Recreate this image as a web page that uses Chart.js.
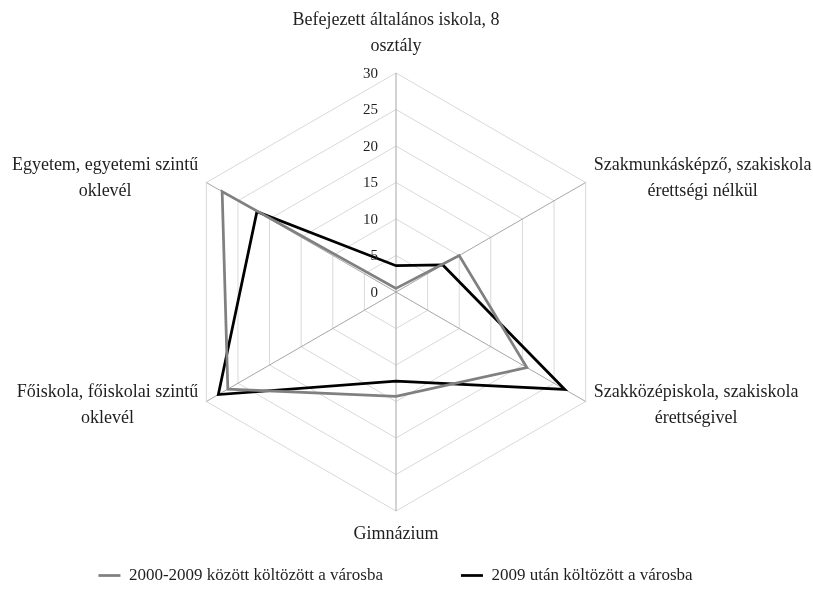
<!DOCTYPE html>
<html><head><meta charset="utf-8">
<script src="https://cdn.jsdelivr.net/npm/chart.js@4"></script>
<style>html,body{margin:0;padding:0;background:#fff}</style>
</head><body>
<canvas id="c" width="813" height="603"></canvas>
<script>
// ---- data ----
const categories = [
  ['Befejezett általános iskola, 8', 'osztály'],
  ['Szakmunkásképző, szakiskola', 'érettségi nélkül'],
  ['Szakközépiskola, szakiskola', 'érettségivel'],
  ['Gimnázium'],
  ['Főiskola, főiskolai szintű', 'oklevél'],
  ['Egyetem, egyetemi szintű', 'oklevél']
];
const seriesNames = ['2000-2009 között költözött a városba', '2009 után költözött a városba'];
const values2000to2009 = [0.5, 10, 20.7, 14.3, 26.6, 27.5];
const valuesAfter2009 = [3.6, 7.4, 26.7, 12.2, 28.1, 22];
const tickMin = 0, tickMax = 30, tickStep = 5;

// ---- layout / style ----
const FONT = '"Liberation Serif", "DejaVu Serif", serif';
const TEXT = '#1f1f1f';
const CX = 396, CY = 292, R = 219;

const labelPlugin = {
  id: 'extLabels',
  afterDraw(chart) {
    const s = chart.scales.r, ctx = chart.ctx;
    ctx.save();
    ctx.fillStyle = TEXT;
    ctx.textBaseline = 'middle';
    // tick labels
    ctx.font = '15px ' + FONT;
    ctx.textAlign = 'right';
    s.ticks.forEach(t => {
      const d = s.getDistanceFromCenterForValue(t.value);
      ctx.fillText(t.label, s.xCenter - 18, s.yCenter - d + 1);
    });
    // point labels
    ctx.font = '18px ' + FONT;
    ctx.textAlign = 'center';
    const lh = 26;
    chart.data.labels.forEach((lab, i) => {
      const lines = Array.isArray(lab) ? lab : [lab];
      const p = s.getPointPosition(i, s.drawingArea);
      const a = s.getIndexAngle(i);
      const dx = Math.sin(a), dy = -Math.cos(a);
      if (Math.abs(dx) < 0.01) {
        if (dy < 0) {
          lines.forEach((ln, k) => ctx.fillText(ln, p.x, p.y - 27 - (lines.length - 1 - k) * lh));
        } else {
          lines.forEach((ln, k) => ctx.fillText(ln, p.x, p.y + 23 + k * lh));
        }
      } else {
        const w = Math.max(...lines.map(l => ctx.measureText(l).width));
        const bx = p.x + Math.sign(dx) * (8 + w / 2);
        const y0 = dy < 0 ? p.y - 17 : p.y - 9;
        lines.forEach((ln, k) => ctx.fillText(ln, bx, y0 + k * lh));
      }
    });
    ctx.restore();
  }
};

new Chart(document.getElementById('c'), {
  type: 'radar',
  data: {
    labels: categories,
    datasets: [
      { label: seriesNames[0], data: values2000to2009, borderColor: '#808080', backgroundColor: '#808080',
        borderWidth: 2.75, pointRadius: 0, fill: false, tension: 0, clip: false },
      { label: seriesNames[1], data: valuesAfter2009, borderColor: '#000000', backgroundColor: '#000000',
        borderWidth: 2.75, pointRadius: 0, fill: false, tension: 0, clip: false }
    ]
  },
  options: {
    responsive: false,
    animation: false,
    layout: { padding: { left: 0, right: 22, top: 0, bottom: 9 } },
    scales: {
      r: {
        min: tickMin, max: tickMax,
        ticks: { display: false, stepSize: tickStep },
        pointLabels: { display: false },
        grid: { color: '#d9d9d9', lineWidth: 1 },
        angleLines: { color: '#a6a6a6', lineWidth: 1 },
        afterFit(s) { s.xCenter = CX; s.yCenter = CY; s.drawingArea = R; }
      }
    },
    plugins: {
      tooltip: { enabled: false },
      legend: {
        position: 'bottom',
        labels: {
          usePointStyle: true, pointStyle: 'line', pointStyleWidth: 22,
          color: TEXT, font: { family: FONT, size: 17 }, padding: 10,
          generateLabels(chart) {
            const items = Chart.defaults.plugins.legend.labels.generateLabels(chart);
            if (items.length) items[0].text += '\u2003\u2003\u2003\u2003';
            return items;
          }
        }
      }
    }
  },
  plugins: [labelPlugin]
});
</script>
</body></html>
